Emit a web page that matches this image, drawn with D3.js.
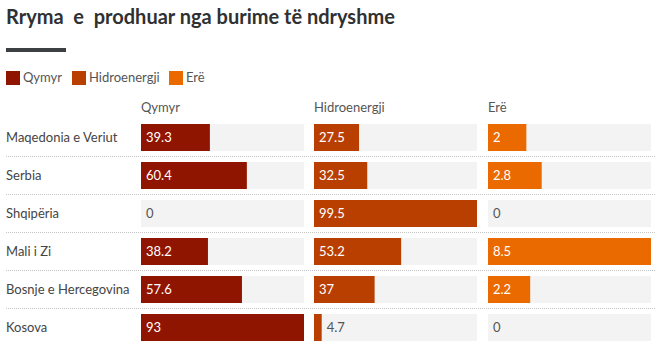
<!DOCTYPE html>
<html><head><meta charset="utf-8">
<script src="https://cdn.jsdelivr.net/npm/d3@7"></script>
<style>
body{margin:0;background:#fff;}
svg text{font-family:Lato,"Source Sans Pro",sans-serif;}
</style></head>
<body><svg id="c" width="664" height="355"></svg>
<script>
const title = "Rryma  e  prodhuar nga burime të ndryshme";
const countries = ["Maqedonia e Veriut","Serbia","Shqipëria","Mali i Zi","Bosnje e Hercegovina","Kosova"];
const series = ["Qymyr","Hidroenergji","Erë"];
const colors = ["#8f1500","#b93f00","#ea6a00"];
const qymyr = [39.3,60.4,0,38.2,57.6,93];
const hidro = [27.5,32.5,99.5,53.2,37,4.7];
const ere = [2,2.8,0,8.5,2.2,0];
const values = [qymyr,hidro,ere];

const svg = d3.select("#c");
svg.append("text").attr("x",6).attr("y",24).text(title)
  .style("white-space","pre").attr("font-size",20).attr("font-weight",700).attr("fill","#2f3133");
svg.append("rect").attr("x",6).attr("y",48).attr("width",60).attr("height",4).attr("fill","#3c4043");

// legend
const legX = [6,72,169];
series.forEach((s,i)=>{
  svg.append("rect").attr("x",legX[i]).attr("y",71).attr("width",14).attr("height",14).attr("fill",colors[i]);
  svg.append("text").attr("x",legX[i]+17).attr("y",82).text(s).attr("font-size",13).attr("fill","#555");
});

const colX = [141,314,488];
const colW = 163;
const y = d3.scaleBand().domain(countries).range([124,341]).paddingInner(11/38).paddingOuter(0);
// header
series.forEach((s,i)=>{
  svg.append("text").attr("x",colX[i]).attr("y",112).text(s).attr("font-size",13).attr("fill","#555");
});
// separators
countries.slice(1).forEach(c=>{
  const yy = Math.round(y(c) - 6) + 0.5;
  svg.append("line").attr("x1",6).attr("x2",656).attr("y1",yy).attr("y2",yy)
    .attr("stroke","#c4c4c4").attr("stroke-width",1).attr("stroke-dasharray","1,1");
});
countries.forEach((c,j)=>{
  svg.append("text").attr("x",6).attr("y",y(c)+y.bandwidth()/2+4.5).text(c).attr("font-size",13).attr("fill","#444");
});
series.forEach((s,i)=>{
  const x = d3.scaleLinear().domain([0,d3.max(values[i])]).range([0,colW]);
  const g = svg.append("g").attr("transform",`translate(${colX[i]},0)`);
  countries.forEach((c,j)=>{
    const v = values[i][j];
    g.append("rect").attr("x",0).attr("y",y(c)).attr("width",colW).attr("height",y.bandwidth()).attr("fill","#f3f3f3");
    g.append("rect").attr("x",0).attr("y",y(c)).attr("width",x(v)).attr("height",y.bandwidth()).attr("fill",colors[i]);
    const inside = x(v) > 30;
    g.append("text").attr("x",inside?5:x(v)+5).attr("y",y(c)+y.bandwidth()/2+4.5)
      .text(v).attr("font-size",13).attr("fill",inside?"#fff":"#555");
  });
});
</script></body></html>
